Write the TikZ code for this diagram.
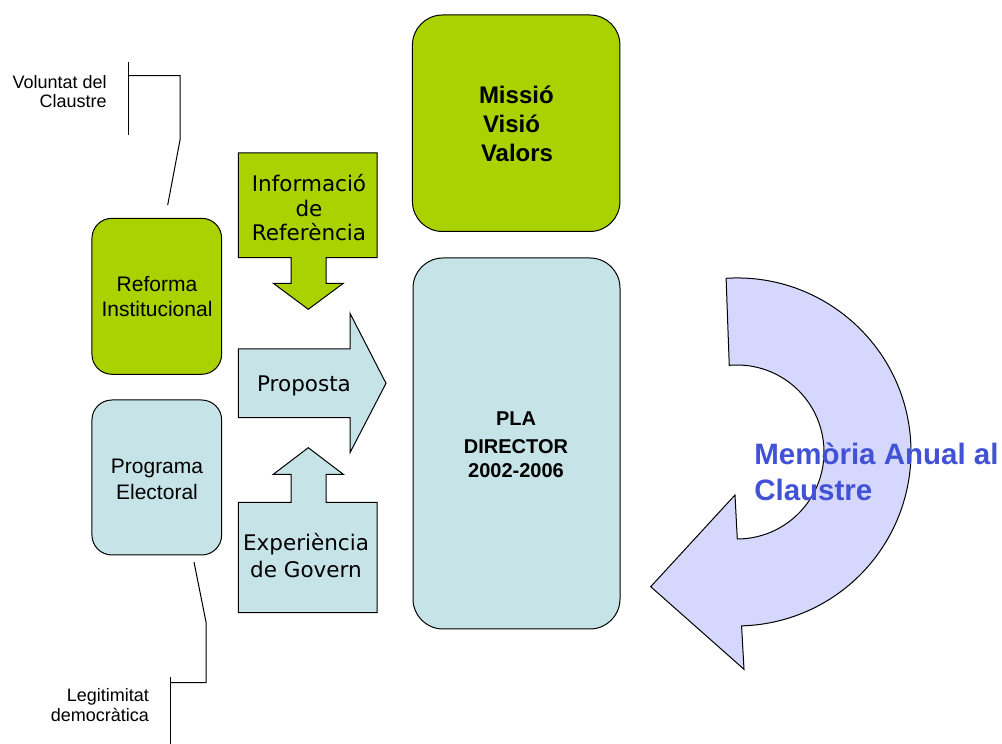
\documentclass[tikz,border=0pt]{standalone}
\usepackage{fontspec}
\newfontfamily\arialf{Liberation Sans}
\newfontfamily\verdf{DejaVu Sans}
\definecolor{gfill}{RGB}{170,210,0}
\definecolor{bfill}{RGB}{198,228,232}
\definecolor{lav}{RGB}{213,215,253}
\definecolor{btext}{RGB}{66,82,214}
\tikzset{
  outl/.style={draw=black, line width=1pt},
  gbox/.style={outl, fill=gfill, rounded corners=20pt, inner sep=0pt},
  bbox/.style={outl, fill=bfill, rounded corners=20pt, inner sep=0pt},
  bigg/.style={outl, fill=gfill, rounded corners=30pt, inner sep=0pt},
  bigb/.style={outl, fill=bfill, rounded corners=30pt, inner sep=0pt},
  barrow/.style={outl, line join=miter},
  callout/.style={draw=black, line width=1pt},
  lbl/.style={inner sep=0pt, outer sep=0pt},
}
\begin{document}
\begin{tikzpicture}[x=1pt,y=1pt]
\useasboundingbox (0,0) rectangle (1002,744);

% boxes
\node[gbox, minimum width=129.7pt, minimum height=156pt] (reforma) at (156.8,447.7) {};
\node[bbox, minimum width=129.7pt, minimum height=155pt] (programa) at (156.8,266.5) {};
\node[bigg, minimum width=207.5pt, minimum height=216.5pt] (missio) at (516.2,620.75) {};
\node[bigb, minimum width=207pt, minimum height=371pt] (pla) at (516.5,300.5) {};

% block arrows
\draw[barrow, fill=gfill] (238.3,591) -- (377,591) -- (377,486.3) -- (326,486.3) -- (326,460.7) -- (343.3,460.7) -- (308.3,434.7) -- (273.3,460.7) -- (291,460.7) -- (291,486.3) -- (238.3,486.3) -- cycle;
\draw[barrow, fill=bfill] (238.3,395) -- (350,395) -- (350,430.7) -- (386,360.7) -- (350,291.3) -- (350,326.3) -- (238.3,326.3) -- cycle;
\draw[barrow, fill=bfill] (238.3,131.3) -- (377,131.3) -- (377,241.7) -- (326,241.7) -- (326,269.7) -- (343.3,269.7) -- (308.3,296.3) -- (273.3,269.7) -- (291,269.7) -- (291,241.7) -- (238.3,241.7) -- cycle;

% circular arrow
\draw[barrow, fill=lav] (726.1,465.7) arc[start angle=93.6, end angle=-88.5, radius=174] -- (744,74.7) -- (650.7,157.3) -- (735,249) -- (737.3,205) arc[start angle=-89.8, end angle=95.1, radius=87] -- cycle;

% texts (anchor base = baseline of last line)
\node[lbl, anchor=base east, align=right, font=\arialf\fontsize{18}{19.5}\selectfont] (volt) at (106.7,636.3) {Voluntat del\\Claustre};
\node[lbl, anchor=base east, align=right, font=\arialf\fontsize{18}{20}\selectfont] (legt) at (149,22.3) {Legitimitat\\democràtica};
\node[lbl, anchor=base, align=center, font=\arialf\fontsize{21}{25}\selectfont] (reft) at (157,427.3) {Reforma\\Institucional};
\node[lbl, anchor=base, align=center, font=\arialf\fontsize{21}{26}\selectfont] (progt) at (157,244.7) {Programa\\Electoral};
\node[lbl, anchor=base west, align=left, font=\arialf\bfseries\fontsize{24}{29}\selectfont] (missiot) at (479,582.3) {Missió\\\hspace*{4pt}Visió\\\hspace*{2pt}Valors};
\node[lbl, anchor=base, align=center, font=\arialf\bfseries\fontsize{20}{23.3}\selectfont] (plat) at (516,266.7) {PLA\\[4.7pt]DIRECTOR\\2002-2006};
\node[lbl, anchor=base, align=center, font=\verdf\fontsize{21.5}{24.7}\selectfont] (infot) at (309,503) {Informació\\de\\Referència};
\node[lbl, anchor=base, align=center, font=\verdf\fontsize{21.5}{25}\selectfont] (propt) at (304,352.3) {Proposta};
\node[lbl, anchor=base, align=center, font=\verdf\fontsize{21.5}{26.3}\selectfont] (expt) at (306,166.7) {Experiència\\de Govern};
\node[lbl, anchor=base west, align=left, text=btext, font=\arialf\bfseries\fontsize{29.5}{36}\selectfont] (memt) at (754.3,243) {Memòria Anual al\\Claustre};

% callouts
\coordinate (v1) at (128,682);
\coordinate (v2) at (128,609);
\coordinate (v3) at (128,668.3);
\coordinate (v4) at (180,668.3);
\coordinate (v5) at (180,604);
\coordinate (v6) at (167.7,539);
\draw[callout] (v1) -- (v2);
\draw[callout] (v3) -- (v4) -- (v5) -- (v6);
\coordinate (l1) at (194,182);
\coordinate (l2) at (206,122);
\coordinate (l3) at (206,61.3);
\coordinate (l4) at (170,61.3);
\coordinate (l5) at (170,67);
\coordinate (l6) at (170,0);
\draw[callout] (l1) -- (l2) -- (l3) -- (l4);
\draw[callout] (l5) -- (l6);
\end{tikzpicture}
\end{document}
